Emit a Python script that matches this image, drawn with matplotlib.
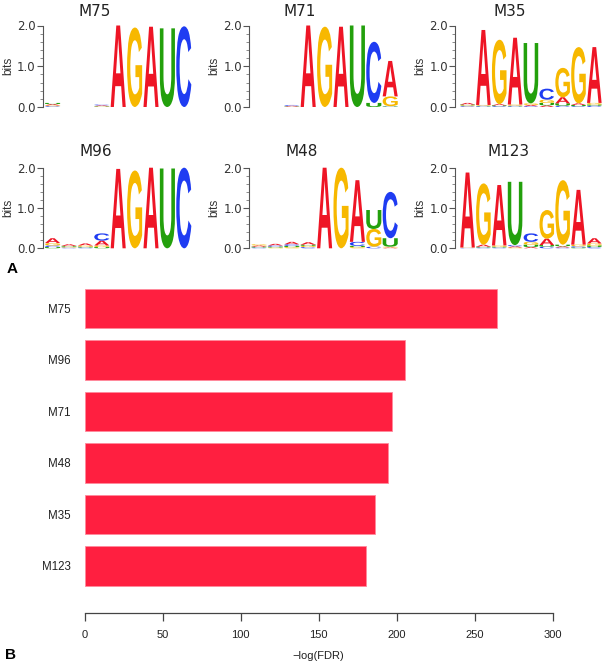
import matplotlib
matplotlib.use("Agg")
import matplotlib.pyplot as plt
import matplotlib.transforms as mtrans
from matplotlib.textpath import TextPath
from matplotlib.patches import PathPatch
from matplotlib.font_manager import FontProperties
from matplotlib.ticker import MultipleLocator

plt.rcParams['font.family'] = ['Liberation Sans', 'DejaVu Sans']

# ---------------- data ----------------
letters = ['A', 'C', 'G', 'U']
# per motif: 9 positions, each [A, C, G, U] heights in bits
M75 = [[0.03, 0.02, 0.02, 0.03], [0, 0, 0, 0], [0, 0, 0, 0], [0.02, 0.02, 0.01, 0.01],
       [2.00, 0, 0, 0], [0, 0, 1.95, 0], [1.97, 0, 0, 0], [0, 0, 0, 1.93], [0, 1.98, 0, 0]]
M71 = [[0, 0, 0, 0], [0, 0, 0, 0], [0.02, 0.02, 0.0, 0.01],
       [2.00, 0, 0, 0], [0, 0, 1.97, 0], [1.97, 0, 0, 0], [0, 0, 0, 2.00],
       [0, 1.50, 0, 0.10], [0.87, 0.01, 0.24, 0.01]]
M35 = [[0.04, 0.02, 0.02, 0.02], [1.84, 0.02, 0.02, 0.01], [0.03, 0.02, 1.58, 0.02],
       [1.64, 0.02, 0.03, 0.01], [0.03, 0.02, 0.04, 1.48], [0.04, 0.27, 0.08, 0.06],
       [0.15, 0.03, 0.72, 0.06], [0.04, 0.02, 1.38, 0.03], [1.37, 0.03, 0.04, 0.03]]
M96 = [[0.12, 0.04, 0.06, 0.03], [0.04, 0.02, 0.02, 0.02], [0.05, 0.02, 0.03, 0.02],
       [0.12, 0.18, 0.04, 0.03], [1.97, 0, 0, 0], [0, 0, 1.93, 0], [2.00, 0, 0, 0],
       [0, 0, 0, 1.98], [0, 2.00, 0, 0]]
M48 = [[0.03, 0.02, 0.03, 0.02], [0.04, 0.03, 0.02, 0.02], [0.06, 0.04, 0.03, 0.03],
       [0.06, 0.03, 0.03, 0.03], [2.00, 0, 0, 0], [0, 0, 2.00, 0],
       [1.53, 0.10, 0.03, 0.03], [0, 0.04, 0.44, 0.47], [0.02, 1.15, 0.02, 0.21]]
M123 = [[1.86, 0.01, 0.01, 0.0], [0.05, 0.02, 1.52, 0.02], [1.50, 0.02, 0.03, 0.02],
        [0.03, 0.03, 0.02, 1.57], [0.03, 0.21, 0.07, 0.06], [0.16, 0.04, 0.71, 0.04],
        [0.03, 0.02, 1.60, 0.04], [1.36, 0.03, 0.04, 0.02], [0.13, 0.03, 0.05, 0.04]]

logo_names = ['M75', 'M71', 'M35', 'M96', 'M48', 'M123']
logo_data = [M75, M71, M35, M96, M48, M123]

bar_names = ['M75', 'M96', 'M71', 'M48', 'M35', 'M123']
bar_values = [264.1, 205.3, 196.8, 194.2, 186.3, 180.3]
x_ticks = [0, 50, 100, 150, 200, 250, 300]

# ---------------- style ----------------
W, H = 606, 670
letter_colors = {'A': '#ee1525', 'C': '#1f3cf2', 'G': '#f7b800', 'U': '#23a00c'}
bar_color = '#ff1f40'

fig = plt.figure(figsize=(W / 100, H / 100), dpi=100)

def px_axes(x0, y0, x1, y1):
    return fig.add_axes([x0 / W, 1 - y1 / H, (x1 - x0) / W, (y1 - y0) / H])

gfp = FontProperties(family='Liberation Sans', weight='bold')
glyphs = {}
for ch in letters:
    p = TextPath((0, 0), ch, size=1, prop=gfp)
    glyphs[ch] = (p, p.get_extents())

def draw_letter(ax, ch, x, y, w, h):
    p, ext = glyphs[ch]
    t = (mtrans.Affine2D().translate(-ext.x0, -ext.y0)
         .scale(w / ext.width, h / ext.height).translate(x, y))
    ax.add_patch(PathPatch(t.transform_path(p), fc=letter_colors[ch],
                           ec='none', lw=0, clip_on=False))

spine_px = [42.7, 249.0, 455.0]
colstart_px = [44.4, 250.8, 459.6]
colw_px = [16.4, 16.4, 15.85]
row_top = [25.5, 167.7]
row_bot = [107.0, 248.3]
title_x = [[95, 300, 510], [96, 302, 509]]
title_y = [11.5, 151]

for k, (name, mat) in enumerate(zip(logo_names, logo_data)):
    r, c = divmod(k, 3)
    sp, cs, cw = spine_px[c], colstart_px[c], colw_px[c]
    ax = px_axes(sp, row_top[r], cs + 9 * cw, row_bot[r])
    ax.set_xlim(-(cs - sp) / cw, 9)
    ax.set_ylim(0, 2)
    for i, col in enumerate(mat):
        order = sorted(range(4), key=lambda j: col[j])
        base = 0.0
        for j in order:
            h = col[j]
            if h <= 0:
                continue
            draw_letter(ax, letters[j], i + 0.04, base, 0.92, h)
            base += h
    for s in ['top', 'right', 'bottom']:
        ax.spines[s].set_visible(False)
    ax.spines['left'].set_color('#555555')
    ax.spines['left'].set_linewidth(0.8)
    ax.set_xticks([])
    ax.set_yticks([0, 1, 2])
    ax.set_yticklabels(['0.0', '1.0', '2.0'])
    ax.yaxis.set_minor_locator(MultipleLocator(0.2))
    ax.tick_params(axis='y', which='major', length=4, width=0.8, color='#555555',
                   labelsize=8.5, labelcolor='#333333', pad=1)
    ax.tick_params(axis='y', which='minor', length=2.2, width=0.6, color='#777777')
    for lab in ax.get_yticklabels():
        lab.set_family('DejaVu Sans')
    ax.set_ylabel('bits', fontsize=8.5, color='#333333', labelpad=2)
    fig.text(title_x[r][c] / W, 1 - title_y[r] / H, name, ha='center', va='center',
             fontsize=11, family='DejaVu Sans', color='#222222')

fig.text(7 / W, 1 - 269 / H, 'A', fontsize=11, fontweight='bold', ha='left', va='center')
fig.text(5 / W, 1 - 655 / H, 'B', fontsize=11, fontweight='bold', ha='left', va='center')

# ---------------- bar chart ----------------
bx0, bx1 = 84.7, 84.7 + 300 * 1.56
by_top, by_bot = 280.0, 612.7
pitch = 51.46
first_center = 308.5
axb = px_axes(bx0, by_top, bx1, by_bot)
ypos = list(range(len(bar_names)))
axb.barh(ypos, bar_values, height=0.77, color=bar_color, edgecolor='#ff8a9c', linewidth=0.6)
axb.set_xlim(0, 300)
axb.set_ylim((by_bot - first_center) / pitch, (by_top - first_center) / pitch)
axb.set_yticks(ypos)
axb.set_yticklabels(bar_names)
axb.set_xticks(x_ticks)
axb.set_xticklabels([str(v) for v in x_ticks])
for s in ['top', 'right', 'left']:
    axb.spines[s].set_visible(False)
axb.spines['bottom'].set_bounds(0, 300)
axb.spines['bottom'].set_color('#444444')
axb.spines['bottom'].set_linewidth(0.9)
axb.tick_params(axis='x', length=6, width=0.9, color='#444444', labelsize=8, pad=6.5,
                labelcolor='#222222')
axb.tick_params(axis='y', length=0, labelsize=8.3, pad=10, labelcolor='#222222')
axb.set_xlabel('\u2212log(FDR)', fontsize=8, color='#222222', labelpad=8)

fig.savefig('out.png', dpi=100)
